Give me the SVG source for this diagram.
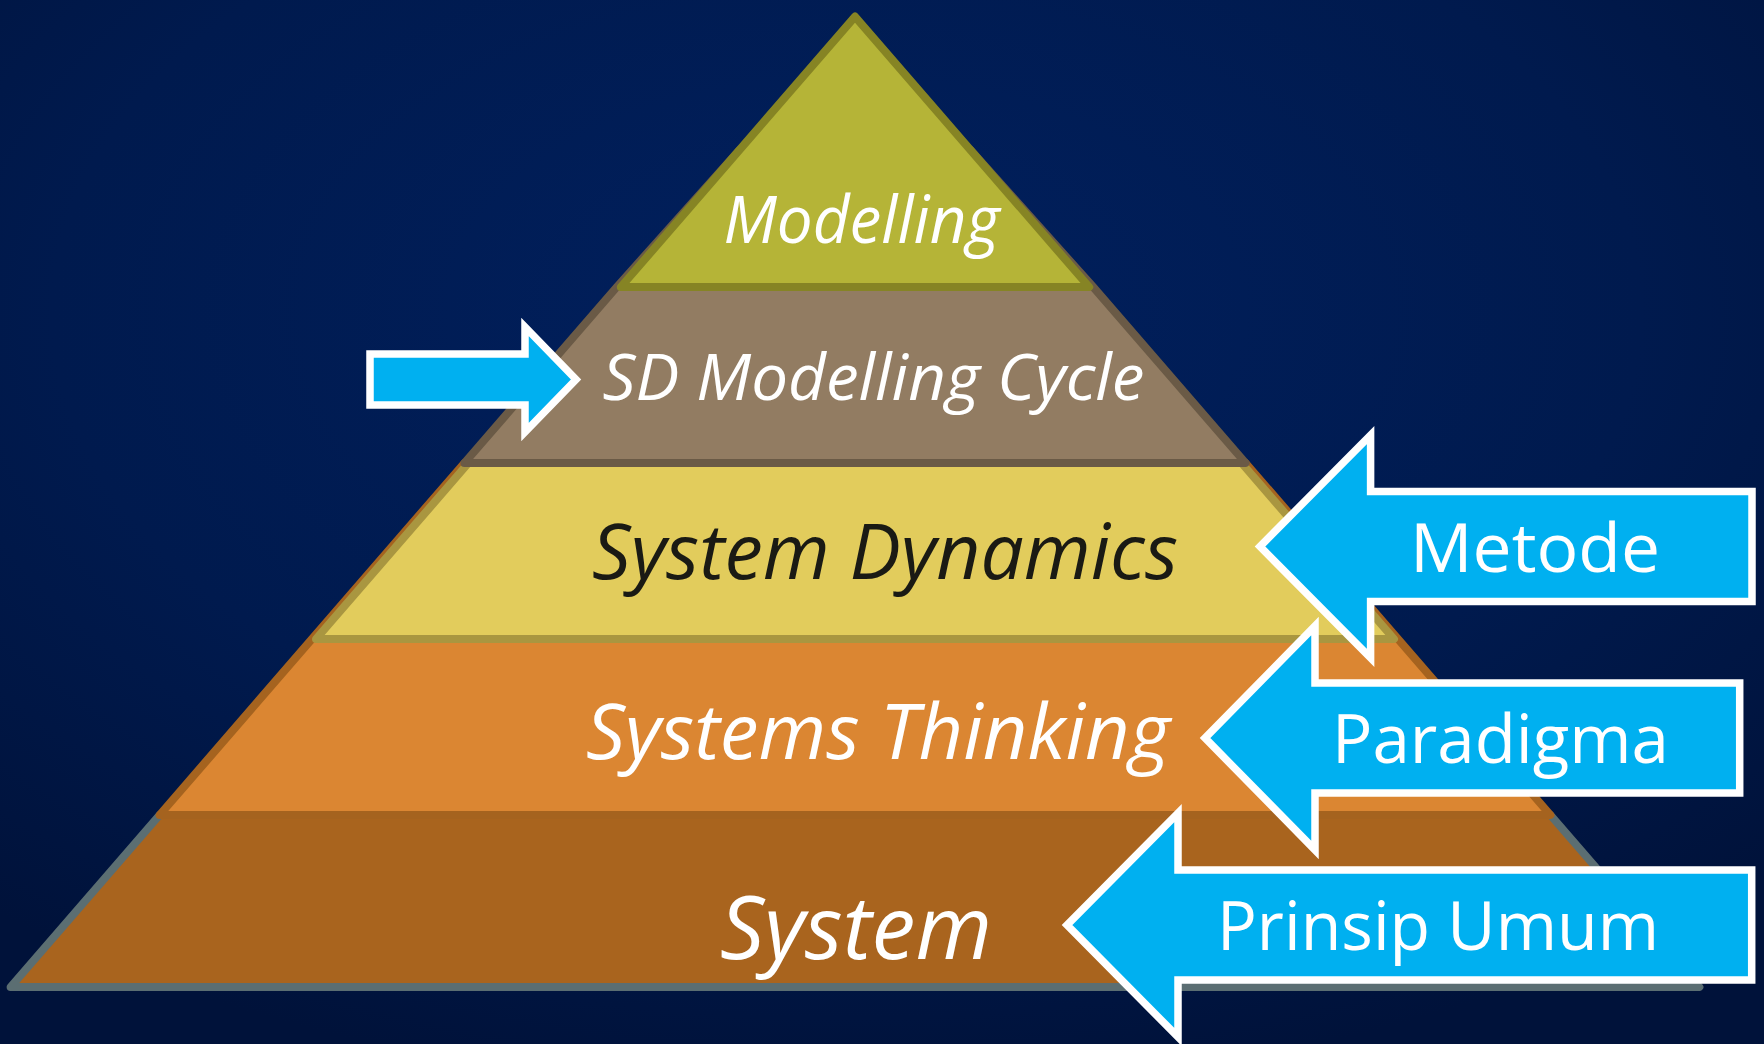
<svg xmlns="http://www.w3.org/2000/svg" width="1764" height="1044" viewBox="0 0 1764 1044">
  <defs>
    <radialGradient id="bg" cx="0.48" cy="0.3" r="0.75">
      <stop offset="0" stop-color="#01205e"/>
      <stop offset="0.6" stop-color="#001a4e"/>
      <stop offset="1" stop-color="#00123a"/>
    </radialGradient>
  </defs>
  <style>
    .layer { stroke-width: 8; stroke-linejoin: round; }
    .ptxt { font-family: "Open Sans", "Noto Sans", sans-serif; font-style: italic; text-anchor: middle; }
    .arrow { fill: #00b0f0; stroke: #ffffff; stroke-width: 7.5; stroke-linejoin: miter; stroke-miterlimit: 10; }
    .atxt { font-family: "Open Sans", "Noto Sans", sans-serif; font-size: 68px; fill: #ffffff; text-anchor: middle; }
  </style>
  <rect id="background" x="0" y="0" width="1764" height="1044" fill="url(#bg)"/>

  <g id="pyramid">
    <g id="layer-system">
      <polygon class="layer" points="159.6,815 1550.4,815 1699.4,987 10.6,987" fill="#a9641e" stroke="#5b6e72"/>
      <text class="ptxt" x="856" y="959" font-size="88" fill="#ffffff" textLength="272" lengthAdjust="spacingAndGlyphs">System</text>
    </g>
    <g id="layer-systems-thinking">
      <polygon class="layer" points="464.4,463 1245.6,463 1550.4,815 159.6,815" fill="#db8632" stroke="#a5631f"/>
      <text class="ptxt" x="878" y="759" font-size="77" fill="#ffffff" textLength="584" lengthAdjust="spacingAndGlyphs">Systems Thinking</text>
    </g>
    <g id="layer-system-dynamics">
      <polygon class="layer" points="468.4,463 1241.6,463 1394,639 316,639" fill="#e2cc5c" stroke="#a99640"/>
      <text class="ptxt" x="885" y="579" font-size="77" fill="#1a1a14" textLength="586" lengthAdjust="spacingAndGlyphs">System Dynamics</text>
    </g>
    <g id="layer-sd-modelling-cycle">
      <polygon class="layer" points="739.5,150 970.5,150 1093.2,287 1245.6,463 464.4,463 616.8,287" fill="#927c62" stroke="#6a5a46"/>
      <text class="ptxt" x="873.5" y="400" font-size="64" fill="#ffffff" textLength="542" lengthAdjust="spacingAndGlyphs">SD Modelling Cycle</text>
    </g>
    <g id="layer-modelling">
      <polygon class="layer" points="855,16.6 1089.2,287 620.8,287" fill="#b5b437" stroke="#868424"/>
      <text class="ptxt" x="861.5" y="243" font-size="65" fill="#ffffff" textLength="276" lengthAdjust="spacingAndGlyphs">Modelling</text>
    </g>
  </g>

  <g id="connectors">
    <g id="arrow-sd-cycle">
      <path class="arrow" d="M370,354 H525 V327 L576,379.5 L525,432 V405 H370 Z"/>
    </g>
    <g id="arrow-metode">
      <path class="arrow" d="M1752,491.5 V601.5 H1370.6 V658 L1260,546.5 L1370.6,435 V491.5 Z"/>
      <text class="atxt" x="1535" y="572" textLength="250" lengthAdjust="spacingAndGlyphs">Metode</text>
    </g>
    <g id="arrow-paradigma">
      <path class="arrow" d="M1739.7,683 V793 H1315 V850 L1205,738 L1315,626 V683 Z"/>
      <text class="atxt" x="1500.5" y="763" textLength="337" lengthAdjust="spacingAndGlyphs">Paradigma</text>
    </g>
    <g id="arrow-prinsip-umum">
      <path class="arrow" d="M1751.7,870 V980 H1178 V1037 L1067,925 L1178,813 V870 Z"/>
      <text class="atxt" x="1438" y="950" textLength="442" lengthAdjust="spacingAndGlyphs">Prinsip Umum</text>
    </g>
  </g>
</svg>
